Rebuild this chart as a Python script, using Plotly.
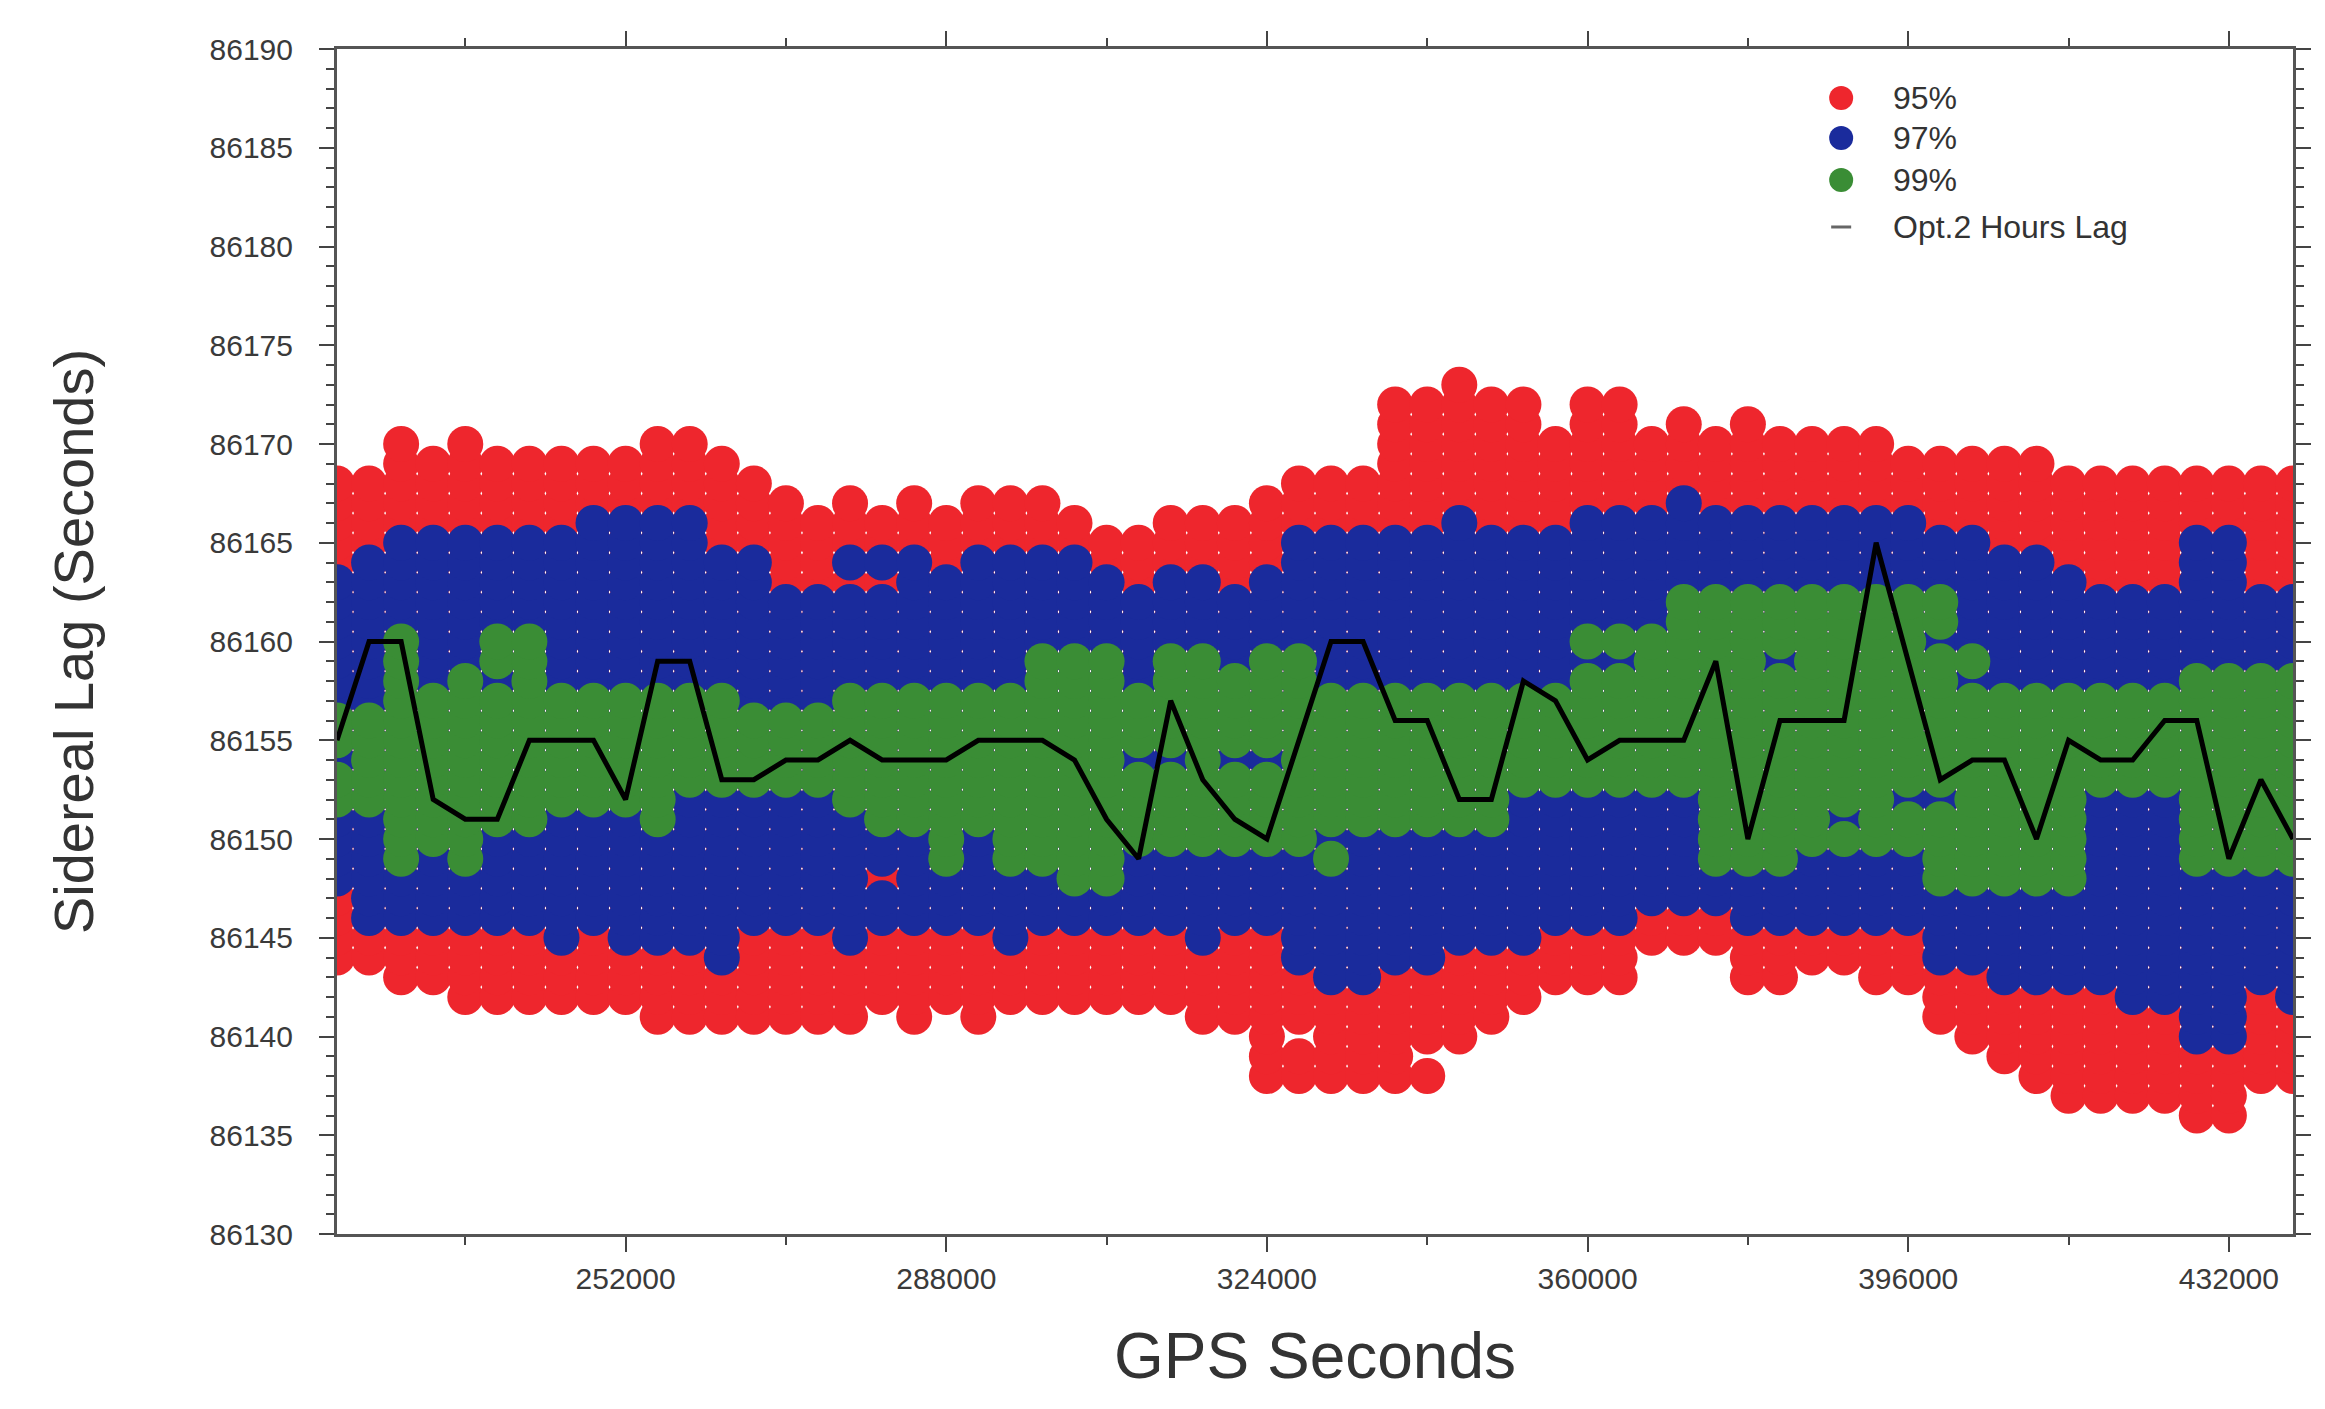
import plotly.graph_objects as go

# Hourly epochs (GPS seconds)
gps_seconds = [219600, 223200, 226800, 230400, 234000, 237600, 241200, 244800, 248400, 252000,
               255600, 259200, 262800, 266400, 270000, 273600, 277200, 280800, 284400, 288000,
               291600, 295200, 298800, 302400, 306000, 309600, 313200, 316800, 320400, 324000,
               327600, 331200, 334800, 338400, 342000, 345600, 349200, 352800, 356400, 360000,
               363600, 367200, 370800, 374400, 378000, 381600, 385200, 388800, 392400, 396000,
               399600, 403200, 406800, 410400, 414000, 417600, 421200, 424800, 428400, 432000,
               435600, 439200]

# 95% confidence band of sidereal lag (s)
red_hi = [86168, 86168, 86170, 86169, 86170, 86169, 86169, 86169, 86169, 86169,
          86170, 86170, 86169, 86168, 86167, 86166, 86167, 86166, 86167, 86166,
          86167, 86167, 86167, 86166, 86165, 86165, 86166, 86166, 86166, 86167,
          86168, 86168, 86168, 86172, 86172, 86173, 86172, 86172, 86170, 86172,
          86172, 86170, 86171, 86170, 86171, 86170, 86170, 86170, 86170, 86169,
          86169, 86169, 86169, 86169, 86168, 86168, 86168, 86168, 86168, 86168,
          86168, 86168]
red_lo = [86144, 86144, 86143, 86143, 86142, 86142, 86142, 86142, 86142, 86142,
          86141, 86141, 86141, 86141, 86141, 86141, 86141, 86142, 86141, 86142,
          86141, 86142, 86142, 86142, 86142, 86142, 86142, 86141, 86141, 86138,
          86138, 86138, 86138, 86138, 86138, 86140, 86141, 86142, 86143, 86143,
          86143, 86145, 86145, 86145, 86143, 86143, 86144, 86144, 86143, 86143,
          86141, 86140, 86139, 86138, 86137, 86137, 86137, 86137, 86136, 86136,
          86138, 86138]

# 97% band
blue_hi = [86163, 86164, 86165, 86165, 86165, 86165, 86165, 86165, 86166, 86166,
           86166, 86166, 86164, 86164, 86162, 86162, 86164, 86164, 86164, 86163,
           86164, 86164, 86164, 86164, 86163, 86162, 86163, 86163, 86162, 86163,
           86165, 86165, 86165, 86165, 86165, 86166, 86165, 86165, 86165, 86166,
           86166, 86166, 86167, 86166, 86166, 86166, 86166, 86166, 86166, 86166,
           86165, 86165, 86164, 86164, 86163, 86162, 86162, 86162, 86165, 86165,
           86162, 86162]
blue_lo = [86148, 86146, 86146, 86146, 86146, 86146, 86146, 86145, 86146, 86145,
           86145, 86145, 86144, 86146, 86146, 86146, 86145, 86146, 86146, 86146,
           86146, 86145, 86146, 86146, 86146, 86146, 86146, 86145, 86146, 86146,
           86144, 86143, 86143, 86144, 86144, 86145, 86145, 86145, 86146, 86146,
           86146, 86147, 86147, 86147, 86146, 86146, 86146, 86146, 86146, 86146,
           86144, 86144, 86143, 86143, 86143, 86143, 86142, 86142, 86140, 86140,
           86143, 86142]

# 99% band
green_hi = [86156, 86156, 86160, 86157, 86158, 86160, 86160, 86157, 86157, 86157,
            86157, 86157, 86157, 86156, 86156, 86156, 86157, 86157, 86157, 86157,
            86157, 86157, 86159, 86159, 86159, 86157, 86159, 86159, 86158, 86159,
            86159, 86157, 86157, 86157, 86157, 86157, 86157, 86157, 86157, 86160,
            86160, 86160, 86162, 86162, 86162, 86162, 86162, 86162, 86162, 86162,
            86162, 86159, 86157, 86157, 86157, 86157, 86157, 86157, 86158, 86158,
            86158, 86158]
green_lo = [86152, 86152, 86149, 86150, 86149, 86151, 86151, 86152, 86152, 86152,
            86151, 86153, 86153, 86153, 86153, 86153, 86152, 86151, 86151, 86149,
            86151, 86149, 86149, 86148, 86148, 86150, 86150, 86150, 86150, 86150,
            86150, 86151, 86151, 86151, 86151, 86151, 86151, 86153, 86153, 86153,
            86153, 86153, 86153, 86149, 86149, 86149, 86150, 86150, 86150, 86150,
            86148, 86148, 86148, 86148, 86148, 86153, 86153, 86153, 86149, 86149,
            86149, 86149]

# Lags missing inside a band (the band beneath, or the background, shows through)
red_gap_sec = [327600, 342000]
red_gap_lag = [86140, 86139]
blue_gap_sec = [277200, 280800, 280800]
blue_gap_lag = [86163, 86163, 86148]
green_gap_sec = [219600, 237600, 309600, 313200, 320400, 324000, 360000, 363600,
                 381600, 388800, 396000, 399600, 399600, 403200]
green_gap_lag = [86154, 86158, 86154, 86154, 86154, 86154, 86159, 86159,
                 86159, 86151, 86152, 86152, 86160, 86158]
green_extra_sec = [331200]
green_extra_lag = [86149]

# Optimal lag from 2-hour windows
opt_lag = [86155, 86160, 86160, 86152, 86151, 86151, 86155, 86155, 86155, 86152,
           86159, 86159, 86153, 86153, 86154, 86154, 86155, 86154, 86154, 86154,
           86155, 86155, 86155, 86154, 86151, 86149, 86157, 86153, 86151, 86150,
           86155, 86160, 86160, 86156, 86156, 86152, 86152, 86158, 86157, 86154,
           86155, 86155, 86155, 86159, 86150, 86156, 86156, 86156, 86165, 86159,
           86153, 86154, 86154, 86150, 86155, 86154, 86154, 86156, 86156, 86149,
           86153, 86150]

series_names = ["95%", "97%", "99%", "Opt.2 Hours Lag"]
RED, BLUE, GREEN = "#EE262D", "#1A2B9C", "#3A8D35"


def band_points(lo, hi, gap_sec=(), gap_lag=(), extra_sec=(), extra_lag=()):
    gaps = set(zip(gap_sec, gap_lag))
    xs, ys = [], []
    for t, a, b in zip(gps_seconds, lo, hi):
        for v in range(a, b + 1):
            if (t, v) not in gaps:
                xs.append(t)
                ys.append(v)
    xs += list(extra_sec)
    ys += list(extra_lag)
    return xs, ys


fig = go.Figure()
bands = [
    (series_names[0], RED, band_points(red_lo, red_hi, red_gap_sec, red_gap_lag)),
    (series_names[1], BLUE, band_points(blue_lo, blue_hi, blue_gap_sec, blue_gap_lag)),
    (series_names[2], GREEN, band_points(green_lo, green_hi, green_gap_sec, green_gap_lag,
                                         green_extra_sec, green_extra_lag)),
]
for name, color, (xs, ys) in bands:
    fig.add_trace(go.Scatter(x=xs, y=ys, mode="markers", name=name,
                             marker=dict(size=36, color=color, line=dict(width=0)),
                             showlegend=False, hoverinfo="skip"))

fig.add_trace(go.Scatter(x=gps_seconds, y=opt_lag, mode="lines", name=series_names[3],
                         line=dict(color="black", width=5), showlegend=False))

axis_common = dict(showline=True, linecolor="#555", linewidth=3, mirror="ticks",
                   showgrid=False, zeroline=False, tickformat="d",
                   ticks="outside", tickcolor="#444", tickwidth=2, ticklen=15)

fig.update_xaxes(range=[219600, 439200], tickmode="linear", tick0=252000, dtick=36000,
                 minor=dict(dtick=18000, ticks="outside", ticklen=8, tickwidth=2, tickcolor="#444"),
                 tickfont=dict(size=30, color="#3a3a3a"), ticklabelstandoff=1,
                 title=dict(text="GPS Seconds", font=dict(size=64, color="#333"), standoff=40),
                 **axis_common)
fig.update_yaxes(range=[86130, 86190], tickmode="linear", tick0=86130, dtick=5,
                 minor=dict(dtick=1, ticks="outside", ticklen=8, tickwidth=2, tickcolor="#444"),
                 tickfont=dict(size=30, color="#3a3a3a"), ticklabelstandoff=20,
                 title=dict(text="Sidereal Lag (Seconds)", font=dict(size=56, color="#333"), standoff=98),
                 **axis_common)

# Legend drawn in the upper right corner of the plot area
legend_x_marker = 0.769
legend_x_text = 0.7945
legend_rows = [0.9586, 0.9249, 0.8895, 0.8498]
shapes = []
annotations = []
for i, (name, color) in enumerate(zip(series_names[:3], [RED, BLUE, GREEN])):
    shapes.append(dict(type="circle", xref="paper", yref="paper", xsizemode="pixel", ysizemode="pixel",
                       xanchor=legend_x_marker, yanchor=legend_rows[i], x0=-12, x1=12, y0=-12, y1=12,
                       fillcolor=color, line=dict(width=0)))
shapes.append(dict(type="line", xref="paper", yref="paper", xsizemode="pixel", ysizemode="pixel",
                   xanchor=legend_x_marker, yanchor=legend_rows[3], x0=-10, x1=10, y0=0, y1=0,
                   line=dict(color="#666", width=3)))
for i, name in enumerate(series_names):
    annotations.append(dict(text=name, xref="paper", yref="paper", x=legend_x_text, y=legend_rows[i],
                            xanchor="left", yanchor="middle", showarrow=False,
                            font=dict(size=32, color="#333")))

fig.update_layout(width=2325, height=1409, margin=dict(l=337, r=32, t=49, b=175),
                  plot_bgcolor="white", paper_bgcolor="white", showlegend=False,
                  font=dict(family="Liberation Sans, Arial, sans-serif", color="#333"),
                  shapes=shapes, annotations=annotations)

fig.write_html("out.html")
